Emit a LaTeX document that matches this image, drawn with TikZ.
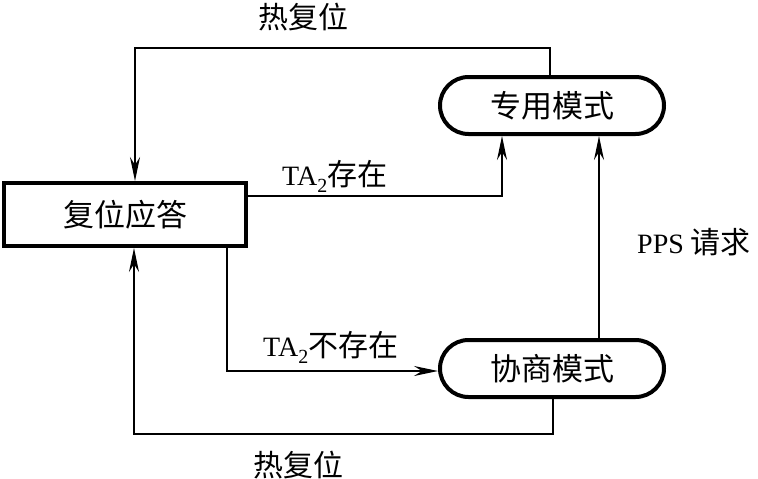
\documentclass[tikz,border=0pt]{standalone}
\usepackage{fontspec}
\setmainfont{Liberation Serif}
\newfontfamily\cjk{Noto Sans CJK SC}
\usetikzlibrary{arrows.meta,shapes.misc}
\newcommand\subtwo{{\fontsize{20}{22}\selectfont\raisebox{-7pt}{2}}}
\begin{document}
\begin{tikzpicture}[x=1pt,y=-1pt,
  box/.style={draw, line width=4pt, rectangle, minimum width=242pt, minimum height=63pt, inner sep=0pt,
    font=\cjk\fontsize{31}{36}\selectfont},
  pill/.style={draw, line width=4pt, rounded rectangle, minimum width=224pt, minimum height=57pt, inner sep=0pt,
    font=\cjk\fontsize{31}{36}\selectfont},
  conn/.style={line width=1.8pt},
  arr/.style={conn, -{Stealth[length=24pt,width=10pt,inset=8pt]}},
  lab/.style={inner sep=0pt, font=\fontsize{28}{32}\selectfont},
  cj/.style={font=\cjk\fontsize{30}{34}\selectfont}
]
\useasboundingbox (0,0) rectangle (758,479);

\node[box] (reset) at (125,214.5) {复位应答};
\node[pill] (zy) at (552,105.5) {专用模式};
\node[pill] (xs) at (552,368.5) {协商模式};

\coordinate (t1) at (550,48);
\coordinate (t2) at (135,48);
\coordinate (a1) at (502,196);
\coordinate (b1) at (227,371);
\coordinate (p1) at (599,300);
\coordinate (c1) at (553,434);
\coordinate (c2) at (134,434);

\draw[arr] (zy.north -| t1) -- (t1) -- (t2) -- (reset.north -| t2);
\draw[arr] (reset.east |- a1) -- (a1) -- (zy.south -| a1);
\draw[arr] (reset.south -| b1) -- (b1) -- (xs.west |- b1);
\draw[arr] (xs.north -| p1) -- (zy.south -| p1);
\draw[arr] (xs.south -| c1) -- (c1) -- (c2) -- (reset.south -| c2);

\node[lab, cj] (l1) at (303,17) {热复位};
\node[lab, cj] (l2) at (298,465) {热复位};
\node[lab, anchor=west] (l3) at (282,176) {TA\subtwo{\cjk\fontsize{30}{34}\selectfont 存在}};
\node[lab, anchor=west] (l4) at (263,347) {TA\subtwo{\cjk\fontsize{30}{34}\selectfont 不存在}};
\node[lab, anchor=west] (l5) at (637,242) {PPS {\cjk\fontsize{30}{34}\selectfont 请求}};
\end{tikzpicture}
\end{document}
